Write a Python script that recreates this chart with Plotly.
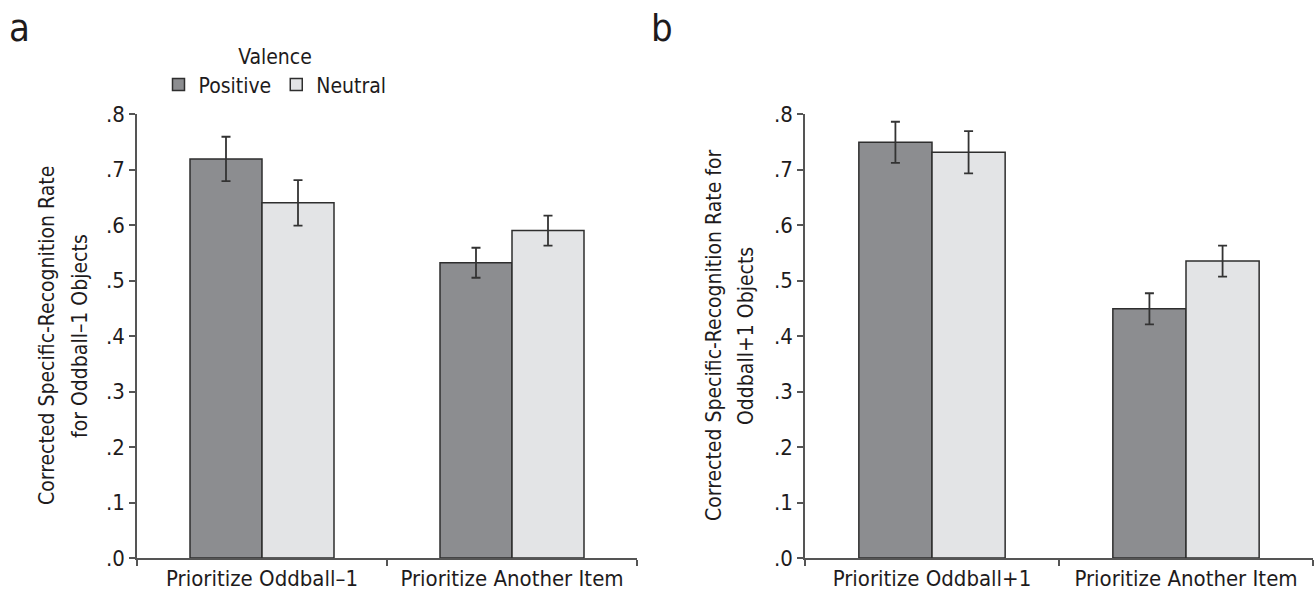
import plotly.graph_objects as go

# ---- data ----
cats_a = ["Prioritize Oddball\u20131", "Prioritize Another Item"]
cats_b = ["Prioritize Oddball+1", "Prioritize Another Item"]
series = ["Positive", "Neutral"]
vals_a_pos = [0.719, 0.532]
vals_a_neu = [0.640, 0.590]
err_a_pos = [0.040, 0.027]
err_a_neu = [0.041, 0.027]
vals_b_pos = [0.749, 0.449]
vals_b_neu = [0.731, 0.535]
err_b_pos = [0.037, 0.028]
err_b_neu = [0.038, 0.028]
tick_vals = [0, 0.1, 0.2, 0.3, 0.4, 0.5, 0.6, 0.7, 0.8]
tick_text = [".0", ".1", ".2", ".3", ".4", ".5", ".6", ".7", ".8"]
ytitle_a = ["Corrected Specific-Recognition Rate", "for Oddball\u20131 Objects"]
ytitle_b = ["Corrected Specific-Recognition Rate for", "Oddball+1 Objects"]

W, H = 1315, 599
FONT = "Liberation Sans Narrow, DejaVu Sans Condensed, Roboto, sans-serif"
TXT = "#1e1b1c"
COL_POS = "#8c8d90"
COL_NEU = "#e3e4e6"
EDGE = "#2e2e2e"
AX = "#555555"

fig = go.Figure()

def add_bars(x, yp, yn, ep, en, xa, ya, show):
    for name, y, e, c in [(series[0], yp, ep, COL_POS), (series[1], yn, en, COL_NEU)]:
        fig.add_trace(go.Bar(
            x=x, y=y, name=name, xaxis=xa, yaxis=ya, showlegend=show,
            marker=dict(color=c, line=dict(color=EDGE, width=1.5)),
            error_y=dict(type="data", array=e, visible=True, color="#333333",
                         thickness=1.8, width=4.5),
        ))

add_bars(cats_a, vals_a_pos, vals_a_neu, err_a_pos, err_a_neu, "x", "y", True)
add_bars(cats_b, vals_b_pos, vals_b_neu, err_b_pos, err_b_neu, "x2", "y2", False)

y0 = (H - 558) / H
y1 = (H - 114) / H

xcommon = dict(showline=True, linecolor=AX, linewidth=1.5, ticks="outside",
               tickson="boundaries", ticklen=6, tickcolor=AX, tickwidth=1.5,
               tickfont=dict(family=FONT, size=22, color=TXT), showgrid=False,
               zeroline=False, fixedrange=True, automargin=False)
ycommon = dict(range=[0, 0.8], tickvals=tick_vals, ticktext=tick_text,
               showline=True, linecolor=AX, linewidth=1.5, ticks="outside",
               ticklen=6, tickcolor=AX, tickwidth=1.5,
               tickfont=dict(family=FONT, size=22, color=TXT), showgrid=False,
               zeroline=False, fixedrange=True, automargin=False)

fig.update_layout(
    width=W, height=H,
    margin=dict(l=0, r=0, t=0, b=0, pad=0, autoexpand=False),
    paper_bgcolor="white", plot_bgcolor="white",
    barmode="group", bargap=0.424, bargroupgap=0,
    font=dict(family=FONT, color=TXT),
    xaxis=dict(domain=[137 / W, 637 / W], anchor="y", **xcommon),
    yaxis=dict(domain=[y0, y1], anchor="x", **ycommon),
    xaxis2=dict(domain=[805 / W, 1313 / W], anchor="y2", **xcommon),
    yaxis2=dict(domain=[y0, y1], anchor="x2", **ycommon),
    legend=dict(orientation="h", x=275 / W, xanchor="center", y=1 - 37 / H,
                yanchor="top", title=dict(text="Valence", side="top center",
                                          font=dict(family=FONT, size=21, color=TXT)),
                font=dict(family=FONT, size=21, color=TXT), itemwidth=30,
                bgcolor="rgba(0,0,0,0)"),
)

ann = []
ann.append(dict(text="a", x=19 / W, y=1 - 28 / H, xref="paper", yref="paper",
                xanchor="center", yanchor="middle",
                showarrow=False, font=dict(family=FONT, size=38, color=TXT)))
ann.append(dict(text="b", x=662 / W, y=1 - 28 / H, xref="paper", yref="paper",
                xanchor="center", yanchor="middle",
                showarrow=False, font=dict(family=FONT, size=38, color=TXT)))
ymid = (y0 + y1) / 2
for xp, t in zip([47, 80], ytitle_a):
    ann.append(dict(text=t, x=xp / W, y=ymid, xref="paper", yref="paper",
                    xanchor="center", yanchor="middle",
                    textangle=-90, showarrow=False,
                    font=dict(family=FONT, size=21, color=TXT)))
for xp, t in zip([714, 746], ytitle_b):
    ann.append(dict(text=t, x=xp / W, y=ymid, xref="paper", yref="paper",
                    xanchor="center", yanchor="middle",
                    textangle=-90, showarrow=False,
                    font=dict(family=FONT, size=21, color=TXT)))
fig.update_layout(annotations=ann)

fig.write_html("out.html", config={"displayModeBar": False},
               post_script="document.body.style.margin='0';document.body.style.overflow='hidden';")
